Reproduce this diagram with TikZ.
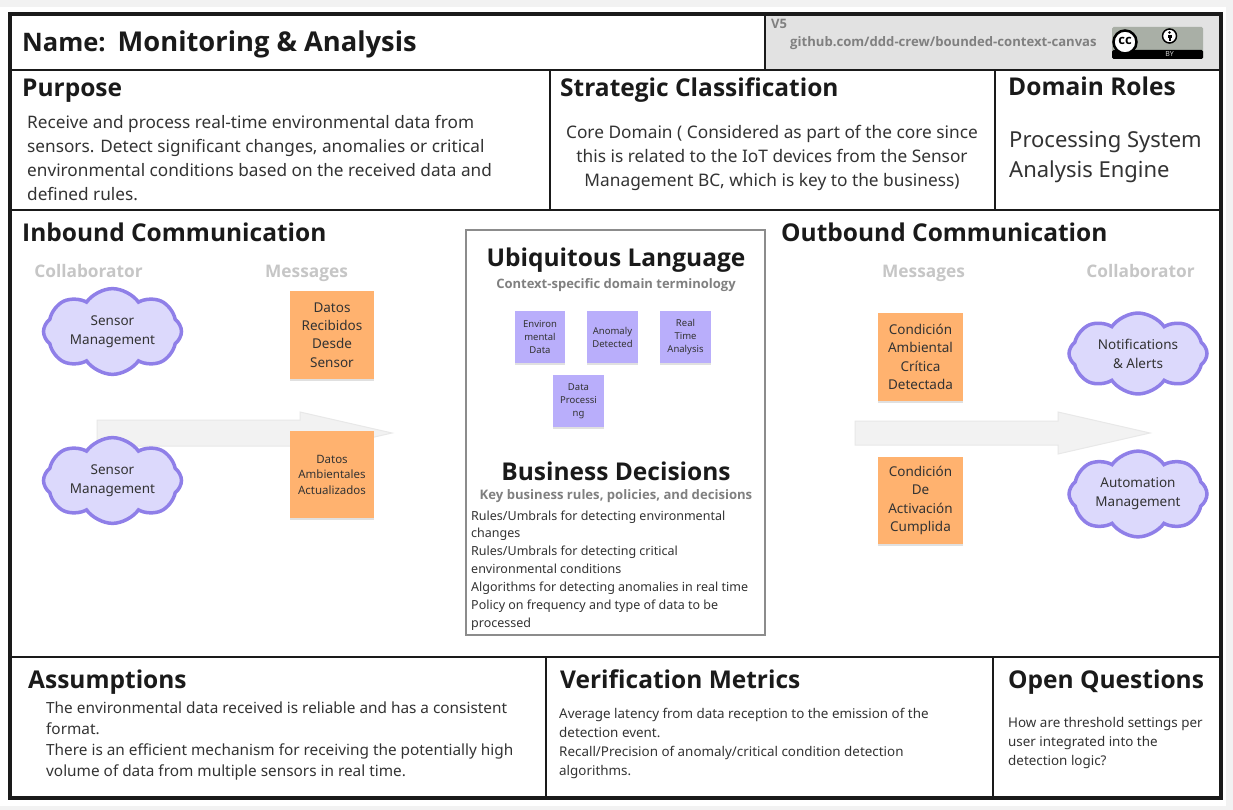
\documentclass[tikz,border=0pt]{standalone}
\usepackage{fontspec}
\setmainfont{Noto Sans}
\newfontfamily\headface{Open Sans}
\usepackage{tikz}
\usetikzlibrary{shapes.symbols,shadows}
\definecolor{inkblack}{HTML}{1A1A1A}
\definecolor{bodyink}{HTML}{333333}
\definecolor{pagegrey}{HTML}{F2F2F2}
\definecolor{bannergrey}{HTML}{E2E2E2}
\definecolor{badgegrey}{HTML}{A9AFA6}
\definecolor{hintgrey}{HTML}{808080}
\definecolor{paleGrey}{HTML}{C6C6C6}
\definecolor{cloudline}{HTML}{8F7FE8}
\definecolor{cloudfill}{HTML}{DCD9FC}
\definecolor{noteorange}{HTML}{FFB26F}
\definecolor{notepurple}{HTML}{B9AEFB}
\tikzset{
    heading/.style={anchor=base west,inner sep=0pt,text=inkblack,font=\fontsize{24.5}{30}\selectfont\headface\bfseries},
    bigheading/.style={anchor=base,inner sep=0pt,text=inkblack,font=\fontsize{24.5}{30}\selectfont\headface\bfseries},
    subheading/.style={anchor=base,inner sep=0pt,text=hintgrey,font=\fontsize{13.1}{16}\selectfont\headface\bfseries},
    column/.style={anchor=base,inner sep=0pt,text=paleGrey,font=\fontsize{17.3}{20}\selectfont\headface\bfseries},
    body/.style={anchor=west,inner sep=0pt,align=left,text=bodyink},
    divider/.style={line width=2pt,inkblack},
    collaborator/.style={cloud,cloud puffs=8,cloud puff arc=110,aspect=1.8,draw=cloudline,fill=cloudfill,line width=3.5pt,
        minimum width=138pt,minimum height=74pt,inner sep=0pt,align=center,text=bodyink,font=\fontsize{13.5}{19}\selectfont},
    message/.style={rectangle,fill=noteorange,minimum width=84pt,minimum height=88pt,inner sep=0pt,align=center,text=bodyink,
        drop shadow={shadow xshift=0pt,shadow yshift=-2pt,opacity=.12,fill=black},font=\fontsize{13.5}{18.4}\selectfont},
    term/.style={rectangle,fill=notepurple,minimum width=51pt,minimum height=52pt,inner sep=0pt,align=center,text=bodyink,
        drop shadow={shadow xshift=0pt,shadow yshift=-2pt,opacity=.12,fill=black},font=\fontsize{9.5}{13}\selectfont},
    flow/.style={fill=pagegrey,draw=black!9,line width=1pt}
}
\begin{document}
\begin{tikzpicture}[x=1pt,y=-1pt]
    \useasboundingbox (0,0) rectangle (1233,810);
    \fill[pagegrey] (0,0) rectangle (1233,810);
    \fill[white] (0,7) rectangle (1226,806);
    \fill[bannergrey] (765,14) rectangle (1221,70);

    \draw[divider] (10,70) -- (1221,70);
    \draw[divider] (10,210) -- (1221,210);
    \draw[divider] (10,657) -- (1221,657);
    \draw[divider] (765,14) -- (765,70);
    \draw[divider] (550,70) -- (550,210);
    \draw[divider] (995,70) -- (995,210);
    \draw[divider] (545.5,657) -- (545.5,798);
    \draw[divider] (992.5,657) -- (992.5,798);
    \draw[line width=3.5pt,inkblack] (10,14) rectangle (1221,798);

    \node[heading,font=\fontsize{27.3}{30}\selectfont\headface\bfseries] (name) at (22,52) {{\fontsize{25.5}{30}\selectfont Name:}\hspace{12pt}Monitoring \& Analysis};
    \node[anchor=base west,inner sep=0pt,text=hintgrey,font=\fontsize{13}{16}\selectfont\headface\bfseries] (version) at (771,29) {V5};
    \node[anchor=base west,inner sep=0pt,text=hintgrey,font=\fontsize{13.1}{16}\selectfont\headface\bfseries] (repo) at (790,47) {github.com/ddd-crew/bounded-context-canvas};

    \fill[badgegrey,rounded corners=1.5pt] (1112,27) rectangle (1203,59);
    \fill[black,rounded corners=1.5pt] (1112,50) rectangle (1203,59);
    \draw[black,fill=white,line width=2.5pt] (1125,42) circle [radius=11.5];
    \node[inner sep=0pt,font=\fontsize{13}{13}\selectfont\headface\bfseries] (ccmark) at (1125,41) {cc};
    \draw[black,fill=white,line width=1.5pt] (1169.5,36) circle [radius=7];
    \fill[black] (1169.5,32.5) circle [radius=1.3];
    \fill[black] (1167.5,35) rectangle (1171.5,38.5);
    \fill[black] (1168.5,38.5) rectangle (1170.5,41);
    \node[inner sep=0pt,text=white!80!black,font=\fontsize{7}{7}\selectfont] (bymark) at (1169.5,54.5) {BY};

    \node[heading] (purpose) at (22,97) {Purpose};
    \node[body,font=\fontsize{17.2}{24.3}\selectfont] (purposetext) at (27,158) {Receive and process real-time environmental data from\\sensors. Detect significant changes, anomalies or critical\\environmental conditions based on the received data and\\defined rules.};
    \node[heading] (strategic) at (560,97) {Strategic Classification};
    \node[body,align=center,anchor=center,font=\fontsize{17.3}{24}\selectfont] (strategictext) at (772,158) {Core Domain ( Considered as part of the core since\\this is related to the IoT devices from the Sensor\\Management BC, which is key to the business)};
    \node[heading] (roles) at (1008,96) {Domain Roles};
    \node[body,font=\fontsize{22}{30}\selectfont] (rolestext) at (1009,157) {Processing System\\Analysis Engine};

    \node[heading] (inbound) at (22,241) {Inbound Communication};
    \node[heading] (outbound) at (781,241) {Outbound Communication};
    \node[column] (incollab) at (88.5,277) {Collaborator};
    \node[column] (inmsgs) at (306.5,277) {Messages};
    \node[column] (outmsgs) at (923.5,277) {Messages};
    \node[column] (outcollab) at (1140.5,277) {Collaborator};

    \draw[flow] (97,420) -- (300,420) -- (300,412) -- (392,433) -- (300,454) -- (300,446) -- (97,446) -- cycle;
    \draw[flow] (855,421) -- (1058,421) -- (1058,412) -- (1150,433) -- (1058,454) -- (1058,445) -- (855,445) -- cycle;

    \node[collaborator] (sensorone) at (112.5,331.5) {Sensor\\Management};
    \node[collaborator] (sensortwo) at (112.5,480.5) {Sensor\\Management};
    \node[collaborator] (alerts) at (1138,353.5) {Notifications\\\& Alerts};
    \node[collaborator] (automation) at (1138,494) {Automation\\Management};

    \node[message] (received) at (332,335) {Datos\\Recibidos\\Desde\\Sensor};
    \node[message,minimum height=87pt,font=\fontsize{11.5}{15.5}\selectfont] (updated) at (332,474.5) {Datos\\Ambientales\\Actualizados};
    \node[message,minimum width=85pt] (critical) at (920.5,357) {Condición\\Ambiental\\Crítica\\Detectada};
    \node[message,minimum width=85pt,minimum height=87pt] (fulfilled) at (920.5,500.5) {Condición\\De\\Activación\\Cumplida};

    \draw[line width=2pt,black!45] (466,230) rectangle (765,635);
    \node[bigheading] (language) at (616,266) {Ubiquitous Language};
    \node[subheading,font=\fontsize{13}{16}\selectfont\headface\bfseries] (languagesub) at (616,288) {Context-specific domain terminology};
    \node[term,minimum width=50pt] (envdata) at (540,337) {Environ\\mental\\Data};
    \node[term] (anomaly) at (612.5,337) {Anomaly\\Detected};
    \node[term] (realtime) at (685.5,337) {Real\\Time\\Analysis};
    \node[term] (processing) at (578.5,401) {Data\\Processi\\ng};

    \node[bigheading] (decisions) at (616,480) {Business Decisions};
    \node[subheading] (decisionssub) at (616,499) {Key business rules, policies, and decisions};
    \node[body,font=\fontsize{12.5}{17.9}\selectfont] (decisionstext) at (471,570.5) {Rules/Umbrals for detecting environmental\\changes\\Rules/Umbrals for detecting critical\\environmental conditions\\Algorithms for detecting anomalies in real time\\Policy on frequency and type of data to be\\processed};

    \node[heading] (assumptions) at (28,688) {Assumptions};
    \node[body,font=\fontsize{15.35}{21}\selectfont] (assumptionstext) at (46,741.5) {The environmental data received is reliable and has a consistent\\format.\\There is an efficient mechanism for receiving the potentially high\\volume of data from multiple sensors in real time.};
    \node[heading] (metrics) at (560,688) {Verification Metrics};
    \node[body,font=\fontsize{13.4}{19}\selectfont] (metricstext) at (559,743.5) {Average latency from data reception to the emission of the\\detection event.\\Recall/Precision of anomaly/critical condition detection\\algorithms.};
    \node[heading] (questions) at (1008,688) {Open Questions};
    \node[body,font=\fontsize{13.4}{19}\selectfont] (questionstext) at (1008,743.5) {How are threshold settings per\\user integrated into the\\detection logic?};
\end{tikzpicture}
\end{document}
